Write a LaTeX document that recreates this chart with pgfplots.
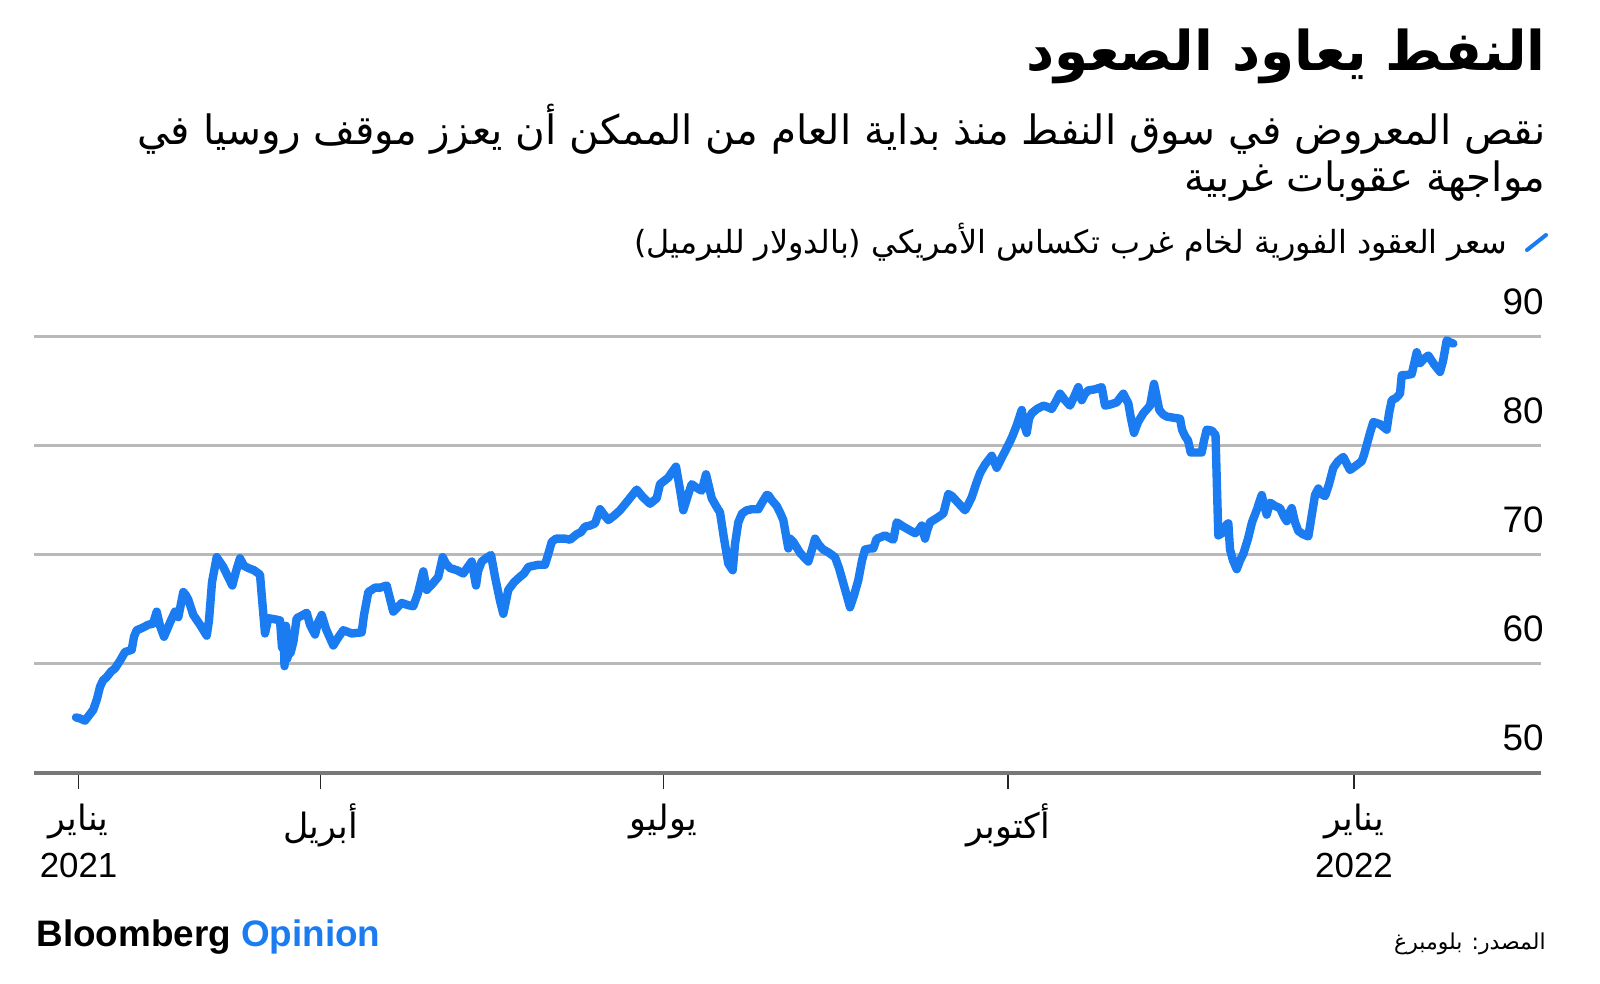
\documentclass[border=0pt]{standalone}
\usepackage{fontspec}
\usepackage{pgfplots}
\pgfplotsset{compat=1.18}
\setmainfont{Liberation Sans}
\newfontfamily\ar[Script=Arabic]{DejaVu Sans}
\TeXXeTstate=1
\definecolor{bbblue}{RGB}{26,124,240}
\definecolor{gridgray}{RGB}{185,185,185}
\definecolor{axisgray}{RGB}{120,120,120}
\begin{document}
\begin{tikzpicture}[x=1bp,y=1bp]
\path[use as bounding box] (-17,-105.5) rectangle (783,386.5);
\begin{axis}[
  at={(0,0)}, anchor=south west,
  scale only axis, width=753.5bp, height=218bp,
  xmin=34, xmax=1541, ymin=50, ymax=90,
  clip=false,
  axis line style={draw=none},
  ytick={50,60,70,80,90},
  ymajorgrids, grid style={draw=gridgray, line width=1.5bp},
  ytick style={draw=none},
  yticklabel pos=right,
  yticklabel style={anchor=south east, inner sep=0pt, xshift=-6.5bp, yshift=11bp, font=\fontsize{18.5}{20}\selectfont},
  /pgf/number format/assume math mode=true,
  xtick pos=bottom,
  xtick={78.6,320.4,663.3,1008.2,1354},
  xticklabels={{\ar\beginR يناير\endR\\2021},{\ar\beginR أبريل\endR},{\ar\beginR يوليو\endR},{\ar\beginR أكتوبر\endR},{\ar\beginR يناير\endR\\2022}},
  xticklabel style={align=center, anchor=north, font=\fontsize{17.5}{23.5}\selectfont, yshift=-4bp},
  tick align=outside, major tick length=8bp,
  xtick style={draw=black!85, line width=0.8bp},
]
\draw[axisgray, line width=2bp] (axis cs:34,50) -- (axis cs:1541,50);
\addplot[bbblue, line width=4.2bp, line join=round, line cap=round] coordinates {
(76,55.1) (80,55.0) (85,54.8) (90,55.4) (93.3,55.8) (97,56.8) (100,57.9) (103,58.5) (106.7,58.8) (111,59.3)
(115,59.6) (120,60.3) (125,61.1) (131.7,61.3) (134,62.5) (136.7,63.1) (142,63.3) (148.3,63.6) (153,63.7) (156.7,64.8)
(160,63.5) (164,62.5) (170,63.8) (175,64.8) (178.3,64.3) (183.3,66.6) (186,66.3) (188.3,65.9) (193.3,64.5) (200,63.6)
(206.7,62.6) (209,64) (212,67.5) (216.7,69.8) (223.3,68.9) (228,68.0) (232.3,67.2) (236,68.5) (240,69.7) (244,69.0)
(248.3,68.8) (254,68.6) (260,68.2) (262,66) (265,62.8) (268.3,64.2) (275,64.1) (280,64.0) (282,61.5) (283.5,63.2)
(284.5,59.8) (286,63.5) (287.5,60.5) (289,62.8) (290.5,61.0) (293.3,62.0) (296.7,64.2) (301,64.4) (306.7,64.7) (310,63.6)
(315,62.7) (318,63.8) (321.7,64.5) (326,63.2) (333.3,61.7) (338,62.4) (343.3,63.1) (351.7,62.8) (361.7,62.9) (364,64.5)
(368.3,66.6) (375,67.0) (380,67.0) (386.7,67.2) (390,66) (393.3,64.8) (401.7,65.6) (408,65.4) (413.3,65.3) (418,66.5)
(423.3,68.5) (426.7,66.8) (432,67.3) (438.3,68.0) (442.7,69.8) (446,69.2) (450,68.8) (457,68.6) (463.3,68.3) (467,68.8)
(471.7,69.4) (476,67.2) (478,68.5) (481.7,69.4) (486,69.7) (491,70.0) (495,68) (500,65.8) (503.3,64.6) (508.3,66.8)
(514,67.5) (520,68.0) (524,68.3) (528.3,68.9) (533,69.0) (538.3,69.1) (545,69.1) (548,70.0) (551.7,71.2) (556,71.5)
(560,71.5) (565,71.5) (570,71.4) (576.7,71.9) (581,72.1) (585,72.6) (590,72.7) (595,72.9) (600,74.2) (604,73.7)
(608.3,73.2) (614,73.6) (620,74.1) (628,75.0) (636.7,76.0) (643,75.3) (650,74.7) (656.7,75.2) (660,76.5) (668.3,77.1)
(672,77.6) (676,78.1) (680,76) (683.3,74.1) (688,75.5) (691.7,76.5) (696,76.2) (701.7,75.9) (706,77.4) (711.7,75.2)
(716,74.5) (720,73.9) (724,71.5) (728.3,69.2) (732.7,68.6) (735,71) (738.3,73.0) (742,73.8) (746.7,74.1) (752,74.2)
(758.3,74.2) (762,74.8) (766.7,75.5) (768.3,75.5) (772,75.0) (776.7,74.5) (780,73.9) (783.3,73.2) (788.3,70.6) (790,71.5)
(793.3,71.2) (800,70.2) (804,69.8) (808.3,69.4) (812,70.5) (815,71.5) (819,70.9) (823.3,70.5) (829,70.2) (835,69.8)
(839,68.8) (843.3,67.4) (847,66.2) (850,65.2) (854,66.3) (858.3,67.7) (862,69.5) (865,70.5) (870,70.6) (873.3,70.6)
(876.7,71.5) (880,71.6) (885,71.8) (889,71.6) (893.3,71.4) (896.7,73.0) (900,72.8) (903.3,72.6) (909,72.3) (915,72.0)
(918,72.2) (921.7,72.7) (925,71.5) (927,72.2) (930,73.0) (937,73.4) (943.3,73.8) (948.3,75.6) (952,75.4) (958,74.8)
(965,74.1) (968,74.6) (971.7,75.3) (976,76.5) (980,77.5) (985,78.3) (991.7,79.1) (994,78.6) (996.7,78.0) (1001,78.8)
(1006.7,79.8) (1012,80.8) (1016.7,81.9) (1021.7,83.3) (1024,82) (1026.7,81.2) (1029,82.5) (1031.7,83.0) (1037,83.4) (1043.3,83.7)
(1047,83.6) (1051.7,83.4) (1056,84.1) (1060,84.8) (1065,84.2) (1070,83.7) (1074,84.5) (1078.3,85.4) (1081.7,84.2) (1085,84.8)
(1088.3,85.1) (1095,85.2) (1101.7,85.4) (1105,83.7) (1110,83.8) (1116.7,84.0) (1123.3,84.8) (1128.3,83.9) (1131,82.5) (1134,81.2)
(1138,82.2) (1143.3,83.0) (1150,83.7) (1154,85.7) (1159.3,83.3) (1163,82.9) (1166.7,82.7) (1173,82.6) (1180,82.5) (1182,81.5)
(1185,80.9) (1188,80.5) (1190.7,79.4) (1196,79.4) (1201.7,79.4) (1204,80.5) (1206.7,81.5) (1212,81.4) (1215.5,81.0) (1217,76)
(1218.3,71.8) (1222,72.0) (1226.7,72.8) (1228.3,72.9) (1230,70.5) (1233,69.5) (1236.7,68.7) (1240,69.5) (1243.3,70.1) (1248,71.5)
(1252,73.0) (1257,74.2) (1261.7,75.5) (1264,74.6) (1266.7,73.7) (1270,74.8) (1275,74.5) (1280,74.3) (1284,73.5) (1286.7,73.1)
(1289,73.8) (1291.7,74.3) (1295,73.0) (1298.3,72.2) (1303,71.9) (1308.3,71.7) (1312,73.8) (1315,75.5) (1318.3,76.1) (1321,75.6)
(1325,75.4) (1329,76.5) (1333.3,78.0) (1338,78.6) (1343.3,79.0) (1346,78.5) (1350,77.8) (1356,78.2) (1361.7,78.6) (1364,79.2)
(1366.7,80.1) (1370,81.2) (1373.3,82.2) (1380,82.0) (1386.7,81.5) (1389,83) (1391.7,84.2) (1396,84.4) (1400,84.8) (1401.7,86.5)
(1406,86.5) (1411.7,86.6) (1414,87.5) (1416.7,88.6) (1420,87.6) (1424,88.0) (1428.3,88.3) (1434,87.5) (1440,86.8) (1443,87.8)
(1446.7,89.7) (1450,89.5) (1453.3,89.4)
};
\end{axis}
% title, subtitle, legend
\node[anchor=east, inner sep=0pt] at (756,358.5) {\ar\bfseries\fontsize{27.5}{30}\selectfont\beginR النفط يعاود الصعود\endR};
\node[anchor=east, inner sep=0pt] at (756,322) {\ar\fontsize{20.3}{24}\selectfont\beginR نقص المعروض في سوق النفط منذ بداية العام من الممكن أن يعزز موقف روسيا في\endR};
\node[anchor=east, inner sep=0pt] at (756,296) {\ar\fontsize{20.3}{24}\selectfont\beginR مواجهة عقوبات غربية\endR};
\draw[bbblue, line width=2bp, line cap=round] (746.5,261.5) -- (756,269);
\node[anchor=east, inner sep=0pt] at (737,265.5) {\ar\fontsize{16}{19}\selectfont\beginR سعر العقود الفورية لخام غرب تكساس الأمريكي (بالدولار للبرميل)\endR};
% footer
\node[anchor=west, inner sep=0pt] at (1,-82) {\fontsize{18.5}{20}\selectfont\bfseries Bloomberg \textcolor{bbblue}{Opinion}};
\node[anchor=east, inner sep=0pt] at (756,-85.5) {\ar\fontsize{11}{13}\selectfont\beginR المصدر: بلومبرغ\endR};
\end{tikzpicture}
\end{document}
